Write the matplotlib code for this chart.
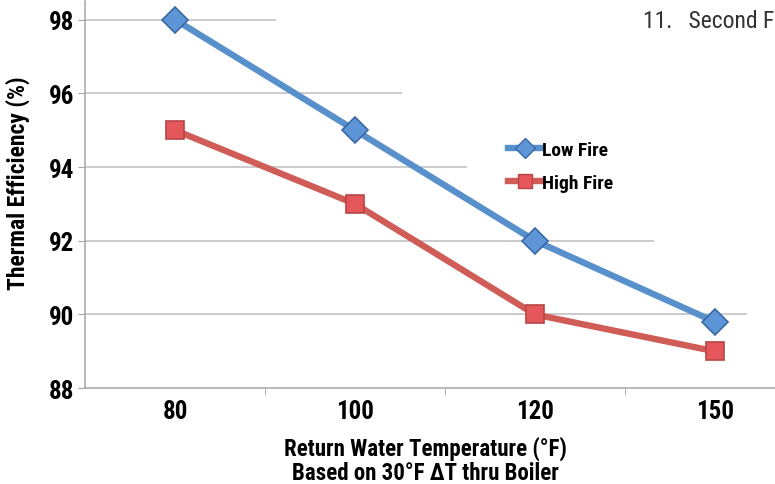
import matplotlib
matplotlib.use("Agg")
import matplotlib.pyplot as plt
from matplotlib import font_manager as fm
from matplotlib.lines import Line2D

# data
temps = ["80", "100", "120", "150"]
low_fire = [98, 95, 92, 89.8]
high_fire = [95, 93, 90, 89]
y_ticks = [88, 90, 92, 94, 96, 98]

# gridline right ends (category units), as they appear in the picture
grid_ends = [3.18, 2.66, 1.62, 1.26, 0.56]
grid_levels = [90, 92, 94, 96, 98]

# pick a narrow bold font if one is around
names = {f.name for f in fm.fontManager.ttflist}
stretches = {(f.name, f.stretch) for f in fm.fontManager.ttflist}
FONT, STRETCH = "Roboto", "normal"
for cand in ["Liberation Sans Narrow", "Roboto Condensed", "Open Sans Condensed"]:
    if cand in names:
        FONT = cand
        break
else:
    if ("DejaVu Sans", "condensed") in stretches or ("DejaVu Sans", 300) in stretches:
        FONT, STRETCH = "DejaVu Sans", "condensed"

plt.rcParams["font.family"] = [FONT, "DejaVu Sans"]
plt.rcParams["font.stretch"] = STRETCH

W, H = 775, 485
fig = plt.figure(figsize=(W / 100, H / 100), dpi=100)
ax = fig.add_axes([85 / W, (H - 389.2) / H, 720 / W, 387 / H])

x = list(range(len(temps)))
ax.plot(x, low_fire, color="#5890CC", lw=4.6, marker="D", ms=13.2,
        mfc="#5E95D6", mec="#3A68A6", mew=1.2, zorder=3,
        solid_joinstyle="round")
ax.plot(x, high_fire, color="#CF5C57", lw=4.6, marker="s", ms=13.6,
        mfc="#E5575A", mec="#B84545", mew=1.2, zorder=3,
        solid_joinstyle="round")

for lev, end in zip(grid_levels, grid_ends):
    ax.hlines(lev, -0.5, end, color="#BDBDBD", lw=1.1, zorder=1)

ax.set_xlim(-0.5, 3.5)
ax.set_ylim(88, 98.5)
ax.set_yticks(y_ticks)
ax.set_yticklabels([str(v) for v in y_ticks])
ax.set_xticks(x)
ax.set_xticklabels(temps)
ax.set_xticks([0.5, 1.5, 2.5, 3.5], minor=True)

for s in ["top", "right"]:
    ax.spines[s].set_visible(False)
for s in ["left", "bottom"]:
    ax.spines[s].set_color("#A6A6A6")
    ax.spines[s].set_linewidth(1.1)

ax.tick_params(axis="y", length=5, color="#A6A6A6", pad=3, labelsize=18)
ax.tick_params(axis="x", which="major", length=0, pad=8, labelsize=18)
ax.tick_params(axis="x", which="minor", length=5, color="#A6A6A6")
for lbl in ax.get_xticklabels() + ax.get_yticklabels():
    lbl.set_fontweight("bold")

fig.text(18 / W, 1 - 183 / H, "Thermal Efficiency (%)", rotation=90,
         ha="center", va="center", fontsize=17, fontweight="bold")
fig.text(425 / W, 1 - 456 / H, "Return Water Temperature (°F)",
         ha="center", va="baseline", fontsize=16.5, fontweight="bold")
fig.text(425 / W, 1 - 480 / H, "Based on 30°F ΔT thru Boiler",
         ha="center", va="baseline", fontsize=16.5, fontweight="bold")

fig.text(643 / W, 1 - 21 / H, "11.   Second F", ha="left", va="center",
         fontsize=17, color="#333333", fontweight="normal")

handles = [
    Line2D([], [], color="#5890CC", lw=4.6, marker="D", ms=10,
           mfc="#5E95D6", mec="#3A68A6", mew=1),
    Line2D([], [], color="#CF5C57", lw=4.6, marker="s", ms=10,
           mfc="#E5575A", mec="#B84545", mew=1),
]
leg = fig.legend(handles, ["Low Fire", "High Fire"], loc="upper left",
                 bbox_to_anchor=(508 / W, 1 - 142 / H), frameon=False,
                 fontsize=14, handlelength=1.7, handletextpad=0.05,
                 labelspacing=0.75, borderpad=0, borderaxespad=0)
for t in leg.get_texts():
    t.set_fontweight("bold")

fig.savefig("out.png", dpi=100)
